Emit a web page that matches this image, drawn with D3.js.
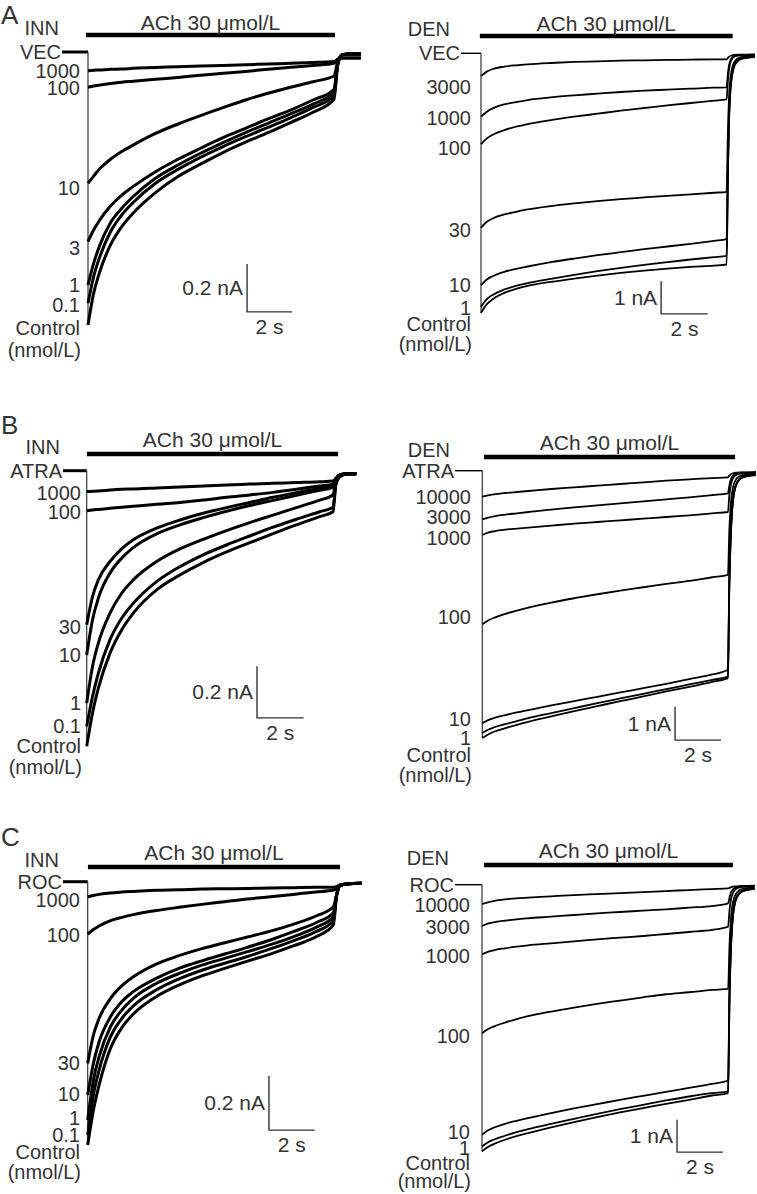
<!DOCTYPE html>
<html><head><meta charset="utf-8">
<script src="https://cdn.jsdelivr.net/npm/d3@7"></script>
<style>
body{margin:0;background:#fff}
svg{display:block;background:#fff}
text{font-family:"Liberation Sans",Arial,sans-serif;fill:#333}
</style>
</head><body>
<svg id="chart" width="757" height="1194"></svg>
<script>
// ---------------- DATA (time in s, current in nA) ----------------
// Panel A, INN (vehicle)
const timeA_INN = [0,0.25,0.5,1,1.5,2,3,4,5,6,7,8,9,10,10.93,11.1,11.3,11.6,12.13];
const concA_INN = ["1000","100","10","3","1","0.1","Control"];
const currA_INN = [
 [-0.078,-0.076,-0.075,-0.072,-0.071,-0.068,-0.065,-0.061,-0.058,-0.056,-0.053,-0.050,-0.047,-0.044,-0.040,-0.03,-0.025,-0.025,-0.025],
 [-0.147,-0.142,-0.138,-0.131,-0.126,-0.122,-0.114,-0.106,-0.097,-0.089,-0.081,-0.072,-0.064,-0.056,-0.047,-0.03,-0.025,-0.025,-0.025],
 [-0.547,-0.517,-0.489,-0.447,-0.415,-0.388,-0.339,-0.300,-0.265,-0.232,-0.200,-0.172,-0.147,-0.124,-0.100,-0.04,-0.01,-0.008,-0.008],
 [-0.790,-0.742,-0.703,-0.642,-0.596,-0.561,-0.499,-0.447,-0.401,-0.357,-0.318,-0.279,-0.242,-0.200,-0.156,-0.05,-0.012,-0.008,-0.008],
 [-0.971,-0.881,-0.811,-0.711,-0.651,-0.603,-0.526,-0.471,-0.422,-0.378,-0.336,-0.297,-0.258,-0.217,-0.169,-0.05,-0.012,-0.008,-0.008],
 [-1.047,-0.936,-0.860,-0.749,-0.679,-0.628,-0.547,-0.489,-0.439,-0.394,-0.353,-0.314,-0.274,-0.231,-0.182,-0.05,-0.012,-0.008,-0.008],
 [-1.138,-1.006,-0.922,-0.804,-0.728,-0.672,-0.586,-0.519,-0.467,-0.419,-0.376,-0.336,-0.294,-0.251,-0.197,-0.055,-0.012,-0.008,-0.008]
];
// Panel A, DEN (vehicle)
const timeA_DEN = [0,0.25,0.5,1,1.5,2,3,4,5,6,7,8,9,10,10.54,10.6,10.65,10.75,10.9,11.15,11.75];
const concA_DEN = ["3000","1000","100","30","10","1","Control"];
const currA_DEN = [
 [-0.694,-0.561,-0.480,-0.408,-0.367,-0.337,-0.296,-0.265,-0.245,-0.224,-0.214,-0.204,-0.194,-0.184,-0.184,-0.14,-0.10,-0.07,-0.05,-0.04,-0.03],
 [-1.939,-1.786,-1.684,-1.561,-1.490,-1.429,-1.347,-1.286,-1.235,-1.184,-1.143,-1.112,-1.082,-1.051,-1.041,-0.60,-0.35,-0.16,-0.08,-0.05,-0.04],
 [-2.776,-2.602,-2.490,-2.347,-2.245,-2.163,-2.041,-1.939,-1.847,-1.755,-1.673,-1.592,-1.520,-1.449,-1.408,-0.80,-0.46,-0.20,-0.09,-0.06,-0.05],
 [-5.337,-5.153,-5.051,-4.929,-4.847,-4.776,-4.673,-4.592,-4.520,-4.459,-4.408,-4.357,-4.316,-4.265,-4.235,-2.3,-1.3,-0.55,-0.24,-0.12,-0.08],
 [-7.092,-6.918,-6.816,-6.684,-6.592,-6.520,-6.388,-6.276,-6.173,-6.082,-5.990,-5.908,-5.827,-5.735,-5.684,-3.1,-1.7,-0.70,-0.30,-0.15,-0.10],
 [-7.755,-7.520,-7.388,-7.224,-7.112,-7.031,-6.898,-6.776,-6.663,-6.561,-6.469,-6.388,-6.306,-6.235,-6.194,-3.4,-1.9,-0.78,-0.33,-0.17,-0.11],
 [-7.939,-7.673,-7.520,-7.327,-7.204,-7.112,-6.990,-6.888,-6.796,-6.714,-6.643,-6.582,-6.531,-6.490,-6.459,-3.55,-1.95,-0.80,-0.35,-0.18,-0.12]
];
// Panel B, INN (ATRA)
const timeB_INN = [0,0.25,0.5,1,1.5,2,3,4,5,6,7,8,9,10,10.57,10.7,10.9,11.2,11.57];
const concB_INN = ["1000","100","30","10","1","0.1","Control"];
const currB_INN = [
 [-0.081,-0.080,-0.079,-0.075,-0.072,-0.071,-0.067,-0.063,-0.059,-0.055,-0.052,-0.049,-0.046,-0.043,-0.040,-0.03,-0.015,-0.012,-0.012],
 [-0.155,-0.152,-0.150,-0.146,-0.142,-0.138,-0.130,-0.123,-0.114,-0.103,-0.094,-0.084,-0.072,-0.059,-0.052,-0.03,-0.015,-0.012,-0.012],
 [-0.597,-0.488,-0.423,-0.352,-0.303,-0.268,-0.223,-0.191,-0.165,-0.143,-0.123,-0.103,-0.085,-0.068,-0.055,-0.03,-0.015,-0.012,-0.012],
 [-0.714,-0.578,-0.494,-0.397,-0.339,-0.298,-0.245,-0.210,-0.182,-0.157,-0.135,-0.115,-0.095,-0.076,-0.065,-0.035,-0.018,-0.012,-0.012],
 [-0.901,-0.759,-0.668,-0.552,-0.475,-0.423,-0.352,-0.303,-0.266,-0.232,-0.201,-0.172,-0.143,-0.114,-0.094,-0.04,-0.02,-0.012,-0.012],
 [-0.991,-0.875,-0.785,-0.655,-0.572,-0.514,-0.430,-0.372,-0.326,-0.288,-0.253,-0.219,-0.188,-0.159,-0.142,-0.05,-0.02,-0.012,-0.012],
 [-1.068,-0.939,-0.843,-0.707,-0.617,-0.552,-0.462,-0.404,-0.356,-0.315,-0.279,-0.244,-0.210,-0.178,-0.159,-0.05,-0.02,-0.012,-0.012]
];
// Panel B, DEN (ATRA)
const timeB_DEN = [0,0.25,0.5,1,1.5,2,3,4,5,6,7,8,9,10,10.68,10.74,10.8,10.9,11.05,11.3,11.9];
const concB_DEN = ["10000","3000","1000","100","10","1","Control"];
const currB_DEN = [
 [-0.78,-0.74,-0.71,-0.67,-0.64,-0.61,-0.55,-0.50,-0.45,-0.40,-0.35,-0.30,-0.26,-0.22,-0.20,-0.15,-0.11,-0.08,-0.06,-0.05,-0.04],
 [-1.46,-1.41,-1.37,-1.32,-1.28,-1.24,-1.17,-1.10,-1.04,-0.98,-0.92,-0.86,-0.80,-0.73,-0.68,-0.45,-0.28,-0.15,-0.09,-0.06,-0.05],
 [-1.93,-1.86,-1.82,-1.77,-1.74,-1.71,-1.65,-1.59,-1.54,-1.49,-1.44,-1.39,-1.34,-1.28,-1.24,-0.75,-0.45,-0.22,-0.12,-0.08,-0.06],
 [-4.61,-4.50,-4.42,-4.30,-4.20,-4.11,-3.96,-3.83,-3.71,-3.60,-3.50,-3.40,-3.31,-3.20,-3.13,-1.8,-1.05,-0.50,-0.24,-0.13,-0.08],
 [-7.58,-7.49,-7.43,-7.34,-7.26,-7.19,-7.05,-6.92,-6.79,-6.66,-6.53,-6.40,-6.26,-6.12,-5.98,-3.3,-1.9,-0.85,-0.38,-0.19,-0.11],
 [-7.88,-7.78,-7.71,-7.61,-7.52,-7.43,-7.28,-7.13,-6.98,-6.84,-6.70,-6.56,-6.42,-6.28,-6.18,-3.4,-2.0,-0.88,-0.40,-0.20,-0.12],
 [-8.03,-7.92,-7.84,-7.73,-7.63,-7.54,-7.38,-7.22,-7.07,-6.92,-6.78,-6.63,-6.49,-6.34,-6.23,-3.45,-2.05,-0.90,-0.41,-0.21,-0.13]
];
// Panel C, INN (ROC)
const timeC_INN = [0,0.25,0.5,1,1.5,2,3,4,5,6,7,8,9,10,10.76,10.9,11.05,11.4,12.0];
const concC_INN = ["1000","100","30","10","1","0.1","Control"];
const currC_INN = [
 [-0.056,-0.051,-0.047,-0.042,-0.038,-0.036,-0.032,-0.030,-0.027,-0.026,-0.025,-0.023,-0.022,-0.021,-0.021,-0.018,-0.012,-0.008,-0.006],
 [-0.194,-0.177,-0.164,-0.144,-0.132,-0.122,-0.107,-0.095,-0.084,-0.074,-0.064,-0.056,-0.047,-0.038,-0.031,-0.025,-0.012,-0.008,-0.006],
 [-0.673,-0.568,-0.506,-0.432,-0.385,-0.352,-0.305,-0.274,-0.248,-0.226,-0.205,-0.183,-0.158,-0.127,-0.093,-0.05,-0.015,-0.008,-0.006],
 [-0.790,-0.673,-0.593,-0.500,-0.444,-0.407,-0.358,-0.321,-0.293,-0.268,-0.243,-0.216,-0.185,-0.152,-0.115,-0.05,-0.015,-0.008,-0.006],
 [-0.883,-0.735,-0.648,-0.537,-0.475,-0.432,-0.377,-0.340,-0.309,-0.284,-0.259,-0.233,-0.204,-0.169,-0.130,-0.05,-0.015,-0.008,-0.006],
 [-0.938,-0.790,-0.698,-0.574,-0.506,-0.460,-0.401,-0.360,-0.328,-0.302,-0.277,-0.249,-0.219,-0.185,-0.144,-0.05,-0.015,-0.008,-0.006],
 [-0.975,-0.846,-0.753,-0.617,-0.540,-0.490,-0.426,-0.383,-0.349,-0.321,-0.294,-0.268,-0.238,-0.204,-0.160,-0.055,-0.015,-0.008,-0.006]
];
// Panel C, DEN (ROC)
const timeC_DEN = [0,0.25,0.5,1,1.5,2,3,4,5,6,7,8,9,10,10.7,10.76,10.82,10.92,11.07,11.32,11.85];
const concC_DEN = ["10000","3000","1000","100","10","1","Control"];
const currC_DEN = [
 [-0.598,-0.546,-0.505,-0.454,-0.423,-0.402,-0.361,-0.320,-0.289,-0.258,-0.227,-0.196,-0.165,-0.134,-0.113,-0.10,-0.08,-0.06,-0.05,-0.04,-0.03],
 [-1.278,-1.206,-1.165,-1.113,-1.072,-1.041,-0.990,-0.938,-0.887,-0.845,-0.804,-0.763,-0.711,-0.660,-0.577,-0.40,-0.25,-0.14,-0.08,-0.05,-0.04],
 [-2.155,-2.082,-2.031,-1.969,-1.918,-1.876,-1.814,-1.753,-1.691,-1.639,-1.588,-1.526,-1.464,-1.402,-1.299,-0.80,-0.48,-0.24,-0.12,-0.07,-0.05],
 [-4.598,-4.474,-4.392,-4.268,-4.165,-4.072,-3.928,-3.804,-3.691,-3.588,-3.485,-3.392,-3.330,-3.258,-3.227,-1.9,-1.1,-0.52,-0.25,-0.13,-0.08],
 [-7.742,-7.608,-7.526,-7.402,-7.309,-7.227,-7.072,-6.928,-6.794,-6.660,-6.536,-6.412,-6.289,-6.165,-6.062,-3.3,-1.9,-0.86,-0.38,-0.19,-0.11],
 [-8.103,-7.979,-7.897,-7.773,-7.660,-7.567,-7.402,-7.247,-7.093,-6.948,-6.814,-6.680,-6.557,-6.454,-6.402,-3.5,-2.0,-0.9,-0.4,-0.2,-0.12],
 [-8.258,-8.124,-8.031,-7.897,-7.784,-7.691,-7.515,-7.351,-7.196,-7.052,-6.918,-6.784,-6.660,-6.526,-6.454,-3.55,-2.05,-0.92,-0.41,-0.21,-0.13]
];
// Scale bars
const scaleINN = {dI:0.2, dT:2, label:"0.2 nA", tLabel:"2 s"};
const scaleDEN = {dI:1, dT:2, label:"1 nA", tLabel:"2 s"};
const drugLabel = "ACh 30 μmol/L";

// ---------------- LAYOUT ----------------
const panels = [
 {letter:"A", letterY:24, head:"INN", ctrl:"VEC", time:timeA_INN, conc:concA_INN, curr:currA_INN, thick:true,
  x0:88, pxS:22.5, y0:52, pxNA:240, labelRight:80, dashX:62, barY:35, bar:[-0.09,10.98], sb:{t:7.07,i:-1.083}, sc:scaleINN,
  nudge:[0,1,5,6,0,2,3], textDy:-5, unitDy:22},
 {head:"DEN", ctrl:"VEC", time:timeA_DEN, conc:concA_DEN, curr:currA_DEN, thick:false,
  x0:481, pxS:23.3, y0:53.3, pxNA:32.7, labelRight:471, dashX:461, barY:36, bar:[-0.05,10.8], sb:{t:7.73,i:-7.97}, sc:scaleDEN,
  nudge:[11,1,4,2,0,1,11], textDy:-5, unitDy:20},
 {letter:"B", letterY:434, head:"INN", ctrl:"ATRA", time:timeB_INN, conc:concB_INN, curr:currB_INN, thick:true,
  x0:86.7, pxS:23.3, y0:470.7, pxNA:258, labelRight:81, dashX:63, barY:454, bar:[0.01,10.79], sb:{t:7.31,i:-0.958}, sc:scaleINN,
  nudge:[1,1,2,0,0,0,0], textDy:-7, unitDy:21},
 {head:"DEN", ctrl:"ATRA", time:timeB_DEN, conc:concB_DEN, curr:currB_DEN, thick:false,
  x0:482.3, pxS:23, y0:470.7, pxNA:33.3, labelRight:471, dashX:455, barY:457, bar:[0.07,10.99], sb:{t:8.38,i:-8.09}, sc:scaleDEN,
  nudge:[0,-2,3,-7,-4,5,17], textDy:-7, unitDy:20},
 {letter:"C", letterY:846, head:"INN", ctrl:"ROC", time:timeC_INN, conc:concC_INN, curr:currC_INN, thick:true,
  x0:87.7, pxS:22.83, y0:881.7, pxNA:270, labelRight:80, dashX:63, barY:867, bar:[0.01,11.05], sb:{t:7.94,i:-0.920}, sc:scaleINN,
  nudge:[3,1,0,-1,-2,0,7], textDy:-7, unitDy:20},
 {head:"DEN", ctrl:"ROC", time:timeC_DEN, conc:concC_DEN, curr:currC_DEN, thick:false,
  x0:482, pxS:23, y0:884.7, pxNA:32.3, labelRight:470, dashX:455, barY:865, bar:[0.09,10.91], sb:{t:8.48,i:-8.28}, sc:scaleDEN,
  nudge:[1,1,2,3,-3,2,12], textDy:-7, unitDy:18}
];

const svg = d3.select("#chart");
svg.append("rect").attr("width",757).attr("height",1194).attr("fill","#fff");

panels.forEach(p => {
  const g = svg.append("g");
  const x = d3.scaleLinear().domain([0,1]).range([p.x0, p.x0 + p.pxS]);
  const y = d3.scaleLinear().domain([0,-1]).range([p.y0, p.y0 + p.pxNA]);
  const fs = 21, fsLab = 20;

  if (p.letter) {
    g.append("text").attr("x",1).attr("y",p.letterY).attr("font-size",26).text(p.letter);
  }
  // drug application bar
  g.append("line").attr("x1",x(p.bar[0])).attr("x2",x(p.bar[1]))
    .attr("y1",p.barY).attr("y2",p.barY).attr("stroke","#000").attr("stroke-width",4.5);
  g.append("text").attr("x",(x(p.bar[0])+x(p.bar[1]))/2).attr("y",p.barY + p.textDy)
    .attr("text-anchor","middle").attr("font-size",fs).text(drugLabel);
  // INN / DEN header
  g.append("text").attr("x",p.labelRight - 21).attr("y",p.barY)
    .attr("text-anchor","end").attr("font-size",fsLab).text(p.head);

  // pre-application baseline
  const tPre = x.invert(p.dashX);
  g.append("line").attr("x1",x(tPre)).attr("x2",x(0)).attr("y1",y(0)).attr("y2",y(0))
    .attr("stroke","#000").attr("stroke-width",p.thick?3:1.4);
  g.append("text").attr("x",p.dashX - 1).attr("y",y(0)).attr("dy","0.35em")
    .attr("text-anchor","end").attr("font-size",fsLab).text(p.ctrl);

  // onset vertical drop
  const minStart = d3.min(p.curr, c => c[0]);
  g.append("line").attr("x1",x(0)).attr("x2",x(0)).attr("y1",y(0)).attr("y2",y(minStart))
    .attr("stroke","#333").attr("stroke-width",1.2);

  // traces
  const line = d3.line().x(d => x(d[0])).y(d => y(d[1])).curve(d3.curveMonotoneX);
  p.curr.forEach(c => {
    const pts = p.time.map((t,i) => [t, c[i]]);
    g.append("path").attr("d", line(pts)).attr("fill","none").attr("stroke","#000")
      .attr("stroke-width", p.thick ? 3 : 1.8).attr("stroke-linejoin","round");
  });

  // concentration labels
  p.conc.forEach((lab,i) => {
    g.append("text").attr("x",p.labelRight).attr("y",y(p.curr[i][0]) + p.nudge[i]).attr("dy","0.35em")
      .attr("text-anchor","end").attr("font-size",fsLab).text(lab);
  });
  const last = p.conc.length - 1;
  g.append("text").attr("x",p.labelRight + 1).attr("y",y(p.curr[last][0]) + p.nudge[last] + p.unitDy).attr("dy","0.35em")
    .attr("text-anchor","end").attr("font-size",fsLab).text("(nmol/L)");

  // scale bar
  const cx = x(p.sb.t), cy = y(p.sb.i);
  const topY = y(p.sb.i + p.sc.dI), rightX = x(p.sb.t + p.sc.dT);
  g.append("path").attr("d",`M${cx},${topY}L${cx},${cy}L${rightX},${cy}`)
    .attr("fill","none").attr("stroke","#333").attr("stroke-width",1.4);
  g.append("text").attr("x",cx - 4).attr("y",(topY+cy)/2).attr("dy","0.35em")
    .attr("text-anchor","end").attr("font-size",fs).text(p.sc.label);
  g.append("text").attr("x",(cx+rightX)/2).attr("y",cy + 15).attr("dy","0.35em")
    .attr("text-anchor","middle").attr("font-size",fs).text(p.sc.tLabel);
});
</script>
</body></html>
